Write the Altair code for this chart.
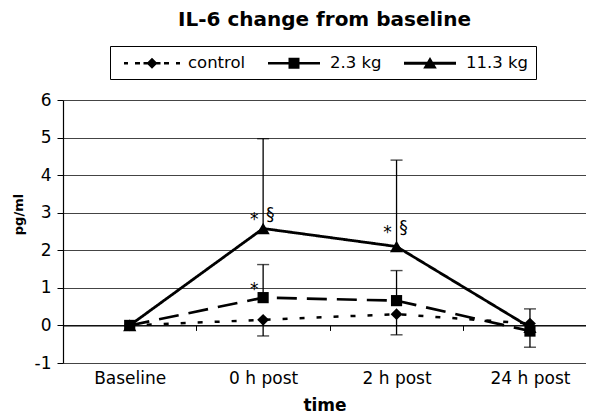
import json
import altair as alt
import pandas as pd

# ---------------- data ----------------
categories = ["Baseline", "0 h post", "2 h post", "24 h post"]
series_names = ["control", "2.3 kg", "11.3 kg"]

control_mean = [0.0, 0.15, 0.30, 0.05]
control_bar_end = [None, -0.28, -0.25, None]
kg2_mean = [0.0, 0.74, 0.66, -0.15]
kg2_bar_end = [None, 1.62, 1.46, -0.58]
kg11_mean = [0.0, 2.58, 2.10, -0.05]
kg11_bar_end = [None, 4.97, 4.40, 0.44]

note_time = ["0 h post", "0 h post", "2 h post", "2 h post", "0 h post"]
note_level = [2.95, 2.95, 2.60, 2.60, 1.08]
note_text = ["*", "§", "*", "§", "*"]

y_ticks = [-1, 0, 1, 2, 3, 4, 5, 6]

# ---------------- tables ----------------
rows = []
for name, means, ends in [("control", control_mean, control_bar_end),
                          ("2.3 kg", kg2_mean, kg2_bar_end),
                          ("11.3 kg", kg11_mean, kg11_bar_end)]:
    for i, cat in enumerate(categories):
        rows.append({"t": i, "time": cat, "series": name,
                     "value": means[i], "end": ends[i]})
df = pd.DataFrame(rows)

notes = pd.DataFrame({"t": [categories.index(c) for c in note_time],
                      "level": note_level, "note": note_text})

FONT = "DejaVu Sans"
H = 263
W = 523
X_MAX = 3.42
UNIT = W / (X_MAX + 0.5)

x_scale = alt.Scale(domain=[-0.5, X_MAX], nice=False, zero=False)
y_scale = alt.Scale(domain=[-1, 6], nice=False, zero=False)

x_axis = alt.Axis(
    values=[0, 1, 2, 3],
    labelExpr=json.dumps(categories) + "[datum.value]",
    offset=-H / 7.0,
    tickOffset=UNIT / 2, labelOffset=-UNIT / 2,
    tickSize=5, tickColor="black", tickWidth=1,
    domainColor="black", domainWidth=1.2,
    grid=False,
    labelPadding=40, labelFont=FONT, labelFontSize=17, labelColor="black",
    titleFont=FONT, titleFontSize=17, titleFontWeight="bold",
    titleColor="black", titlePadding=11,
)
y_axis = alt.Axis(
    values=y_ticks, labelExpr="datum.value + ''",
    grid=True, gridColor="#444444", gridWidth=1,
    domainColor="black", domainWidth=1.2,
    tickColor="black", tickSize=6, tickWidth=1,
    labelPadding=6, labelFont=FONT, labelFontSize=17, labelColor="black",
    titleFont=FONT, titleFontSize=13, titleFontWeight="bold",
    titleColor="black", titlePadding=9, titleY=114,
)


def X():
    return alt.X("t:Q", scale=x_scale, axis=x_axis, title="time")


def Y(field):
    return alt.Y(field + ":Q", scale=y_scale, axis=y_axis, title="pg/ml")


base = alt.Chart(df)

bars = base.transform_filter("isValid(datum.end)").mark_rule(
    color="black", strokeWidth=1.3
).encode(x=X(), y=Y("value"), y2="end:Q")

caps = base.transform_filter("isValid(datum.end)").mark_tick(
    color="black", thickness=1.4, size=12, orient="horizontal"
).encode(x=X(), y=Y("end"))

lines = base.mark_line(color="black").encode(
    x=X(), y=Y("value"),
    strokeDash=alt.StrokeDash("series:N", legend=None,
                              scale=alt.Scale(domain=series_names,
                                              range=[[5, 12], [20, 10], [1, 0]])),
    strokeWidth=alt.StrokeWidth("series:N", legend=None,
                                scale=alt.Scale(domain=series_names,
                                                range=[2.5, 2.8, 3.2])),
)

marker_shapes = {"control": ("diamond", 140), "11.3 kg": ("triangle-up", 175),
                 "2.3 kg": ("square", 125)}
marker_layers = []
for name in ["control", "11.3 kg", "2.3 kg"]:
    shp, sz = marker_shapes[name]
    marker_layers.append(
        base.transform_filter(alt.datum.series == name).mark_point(
            shape=shp, size=sz, filled=True, color="black", opacity=1
        ).encode(x=X(), y=Y("value"))
    )


# legend glyphs: line pieces drawn as thin filled bars + the marker
def bar(x0, x1, h):
    return f"M{x0},{-h}L{x1},{-h}L{x1},{h}L{x0},{h}Z"


path_control = "".join(bar(a, b, 0.12) for a, b in
                       [(-2.8, -2.4), (-1.7, -1.2), (-0.85, 0.85),
                        (1.2, 1.7), (2.4, 2.8)]) + \
    "M0,-0.55L0.55,0L0,0.55L-0.55,0Z"
path_kg2 = bar(-2.6, 2.6, 0.13) + "M-0.55,-0.55L0.55,-0.55L0.55,0.55L-0.55,0.55Z"
path_kg11 = bar(-2.6, 2.6, 0.15) + "M0,-0.62L0.68,0.52L-0.68,0.52Z"

legend_layer = base.transform_filter("false").mark_point(
    filled=True, color="black", opacity=1
).encode(
    shape=alt.Shape(
        "series:N",
        scale=alt.Scale(domain=series_names,
                        range=[path_control, path_kg2, path_kg11]),
        legend=alt.Legend(
            title=None, orient="none", legendX=47, legendY=-54,
            direction="horizontal", columns=3, gridAlign="each",
            symbolSize=400, symbolStrokeWidth=0,
            symbolFillColor="black",
            symbolOpacity=1, symbolOffset=25, labelOffset=26,
            labelFont=FONT, labelFontSize=16.5, labelColor="black",
            labelLimit=300, columnPadding=13, padding=7,
            strokeColor="black", fillColor="white",
        ),
    )
)

stars = alt.Chart(notes).transform_filter(alt.datum.note == "*").mark_text(
    font=FONT, fontSize=17, baseline="middle", align="center",
    color="black", dx=-9, dy=5
).encode(x=X(), y=Y("level"), text="note:N")

sections = alt.Chart(notes).transform_filter(alt.datum.note == "§").mark_text(
    font=FONT, fontSize=17, baseline="middle", align="center",
    color="black", dx=7, dy=0
).encode(x=X(), y=Y("level"), text="note:N")

chart = alt.layer(
    bars, caps, lines, *marker_layers, legend_layer, stars, sections
).properties(
    width=W, height=H,
    title=alt.Title("IL-6 change from baseline", font=FONT, fontSize=20,
                    fontWeight="bold", color="black", anchor="middle",
                    baseline="alphabetic", offset=0),
    autosize=alt.AutoSizeParams(type="none"),
    padding={"left": 55, "top": 92, "right": 0, "bottom": 55},
).resolve_scale(
    shape="independent"
).configure_view(strokeWidth=0, stroke="transparent").configure(background="white")

chart.save("out.html", embed_options={"renderer": "svg", "actions": False})
